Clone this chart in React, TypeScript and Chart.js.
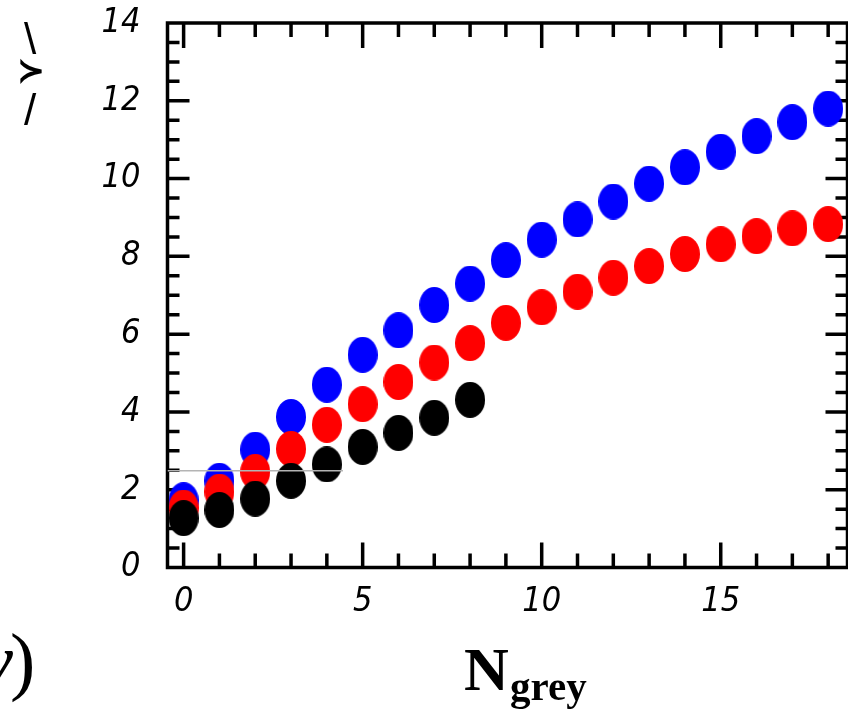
import React, { useEffect, useRef } from "react";
import { Chart, registerables } from "chart.js";

Chart.register(...registerables);

// ---- data ----
const nGrey = [0, 1, 2, 3, 4, 5, 6, 7, 8, 9, 10, 11, 12, 13, 14, 15, 16, 17, 18];
const blueValues = [1.73, 2.23, 3.03, 3.87, 4.7, 5.47, 6.1, 6.75, 7.3, 7.9, 8.43, 8.95, 9.41, 9.87, 10.29, 10.69, 11.09, 11.45, 11.8];
const redValues = [1.54, 1.95, 2.46, 3.05, 3.67, 4.2, 4.77, 5.27, 5.77, 6.29, 6.69, 7.09, 7.45, 7.75, 8.06, 8.31, 8.52, 8.72, 8.83];
const blackNGrey = [0, 1, 2, 3, 4, 5, 6, 7, 8];
const blackValues = [1.27, 1.48, 1.77, 2.23, 2.65, 3.1, 3.46, 3.85, 4.31];
const artifactX = [-0.45, 4.45];
const artifactY = [2.49, 2.49];
const xTickValues = [0, 5, 10, 15];
const yTickValues = [0, 2, 4, 6, 8, 10, 12, 14];
const xTitleMain = "N";
const xTitleSub = "grey";
const yTitleGlyphs = ["\\", "≻", "/"];
const leftFragmentItalic = "ν";
const leftFragment = ")";

function ellipseStyle(color: string): HTMLCanvasElement {
  const w = 30;
  const h = 36;
  const c = document.createElement("canvas");
  c.width = w;
  c.height = h;
  const g = c.getContext("2d")!;
  g.fillStyle = color;
  g.beginPath();
  g.ellipse(w / 2, h / 2, w / 2, h / 2, 0, 0, Math.PI * 2);
  g.fill();
  return c;
}

export default function App() {
  const ref = useRef<HTMLCanvasElement>(null);

  useEffect(() => {
    const canvas = ref.current!;
    const tickFamily = '"Liberation Sans Narrow", "DejaVu Sans Condensed", sans-serif';

    const framePlugin = {
      id: "frame",
      beforeDatasetsDraw(chart: any) {
        const { ctx, chartArea: a, scales } = chart;
        const xs = scales.x;
        const ys = scales.y;
        ctx.save();
        ctx.strokeStyle = "#000";
        ctx.lineWidth = 3.5;
        ctx.lineCap = "butt";
        ctx.beginPath();
        for (let v = 0; v <= 18; v++) {
          const px = xs.getPixelForValue(v);
          const len = v % 5 === 0 ? 25 : 14;
          ctx.moveTo(px, a.bottom);
          ctx.lineTo(px, a.bottom - len);
          ctx.moveTo(px, a.top);
          ctx.lineTo(px, a.top + len);
        }
        for (let k = 1; k < 28; k++) {
          const v = k / 2;
          const py = ys.getPixelForValue(v);
          const len = k % 4 === 0 ? 22 : 12;
          ctx.moveTo(a.left, py);
          ctx.lineTo(a.left + len, py);
          ctx.moveTo(a.right, py);
          ctx.lineTo(a.right - len, py);
        }
        ctx.stroke();
        ctx.strokeRect(a.left, a.top, a.right - a.left, a.bottom - a.top);
        ctx.restore();
      },
      afterDraw(chart: any) {
        const { ctx } = chart;
        ctx.save();
        ctx.fillStyle = "#000";
        ctx.textBaseline = "alphabetic";
        // x-axis title
        ctx.textAlign = "left";
        ctx.font = 'bold 62px "Liberation Serif", serif';
        ctx.fillText(xTitleMain, 464, 690);
        ctx.font = 'bold 41px "Liberation Serif", serif';
        ctx.fillText(xTitleSub, 510, 700);
        // cropped fragment bottom-left
        ctx.font = 'italic 76px "Liberation Serif", serif';
        ctx.textAlign = "right";
        ctx.fillText(leftFragmentItalic, 13, 686);
        ctx.font = '76px "Liberation Serif", serif';
        ctx.textAlign = "left";
        ctx.fillText(leftFragment, 10, 686);
        // cropped y-title fragment top-left
        ctx.textAlign = "center";
        ctx.textBaseline = "middle";
        ctx.font = '44px "Liberation Sans Narrow", sans-serif';
        ctx.fillText(yTitleGlyphs[0], 30, 42);
        ctx.font = 'bold 34px "DejaVu Sans", sans-serif';
        ctx.fillText(yTitleGlyphs[1], 31, 73);
        ctx.font = '44px "Liberation Sans Narrow", sans-serif';
        ctx.fillText(yTitleGlyphs[2], 30, 113);
        ctx.restore();
      },
    };

    const chart = new Chart(canvas, {
      type: "scatter",
      data: {
        datasets: [
          {
            label: "artifact",
            data: artifactX.map((x, i) => ({ x, y: artifactY[i] })),
            showLine: true,
            borderColor: "#b4b4b4",
            borderWidth: 1.5,
            pointRadius: 0,
            order: 0,
          },
          {
            label: "black",
            data: blackNGrey.map((x, i) => ({ x, y: blackValues[i] })),
            pointStyle: ellipseStyle("#000000"),
            order: 1,
          },
          {
            label: "red",
            data: nGrey.map((x, i) => ({ x, y: redValues[i] })),
            pointStyle: ellipseStyle("#ff0000"),
            order: 2,
          },
          {
            label: "blue",
            data: nGrey.map((x, i) => ({ x, y: blueValues[i] })),
            pointStyle: ellipseStyle("#0000ff"),
            order: 3,
          },
        ],
      },
      options: {
        responsive: false,
        animation: false,
        events: [],
        layout: { autoPadding: false, padding: { top: 23, right: 0.5, left: 0, bottom: 0 } },
        plugins: { legend: { display: false }, tooltip: { enabled: false } },
        scales: {
          x: {
            type: "linear",
            min: -0.45,
            max: 18.54,
            grid: { display: false, drawTicks: false },
            border: { display: false },
            afterBuildTicks: (s: any) => {
              s.ticks = xTickValues.map((v) => ({ value: v }));
            },
            afterFit: (s: any) => {
              s.height = 146.5;
              s.paddingLeft = 0;
              s.paddingRight = 0;
              s.paddingTop = 0;
              s.paddingBottom = 0;
            },
            ticks: {
              color: "#000",
              padding: 14,
              maxRotation: 0,
              autoSkip: false,
              font: { family: tickFamily, size: 34, style: "italic" },
            },
          },
          y: {
            type: "linear",
            min: 0,
            max: 14,
            grid: { display: false, drawTicks: false },
            border: { display: false },
            afterBuildTicks: (s: any) => {
              s.ticks = yTickValues.map((v) => ({ value: v }));
            },
            afterFit: (s: any) => {
              s.width = 167.5;
              s.paddingLeft = 0;
              s.paddingRight = 0;
              s.paddingTop = 0;
              s.paddingBottom = 0;
            },
            ticks: {
              color: "#000",
              padding: 27,
              autoSkip: false,
              font: { family: tickFamily, size: 34, style: "italic" },
            },
          },
        },
      },
      plugins: [framePlugin],
    } as any);

    return () => chart.destroy();
  }, []);

  return (
    <div style={{ position: "fixed", left: 0, top: 0, width: 848, height: 714, background: "#fff" }}>
      <canvas ref={ref} width={848} height={714} style={{ width: 848, height: 714, display: "block" }} />
    </div>
  );
}
